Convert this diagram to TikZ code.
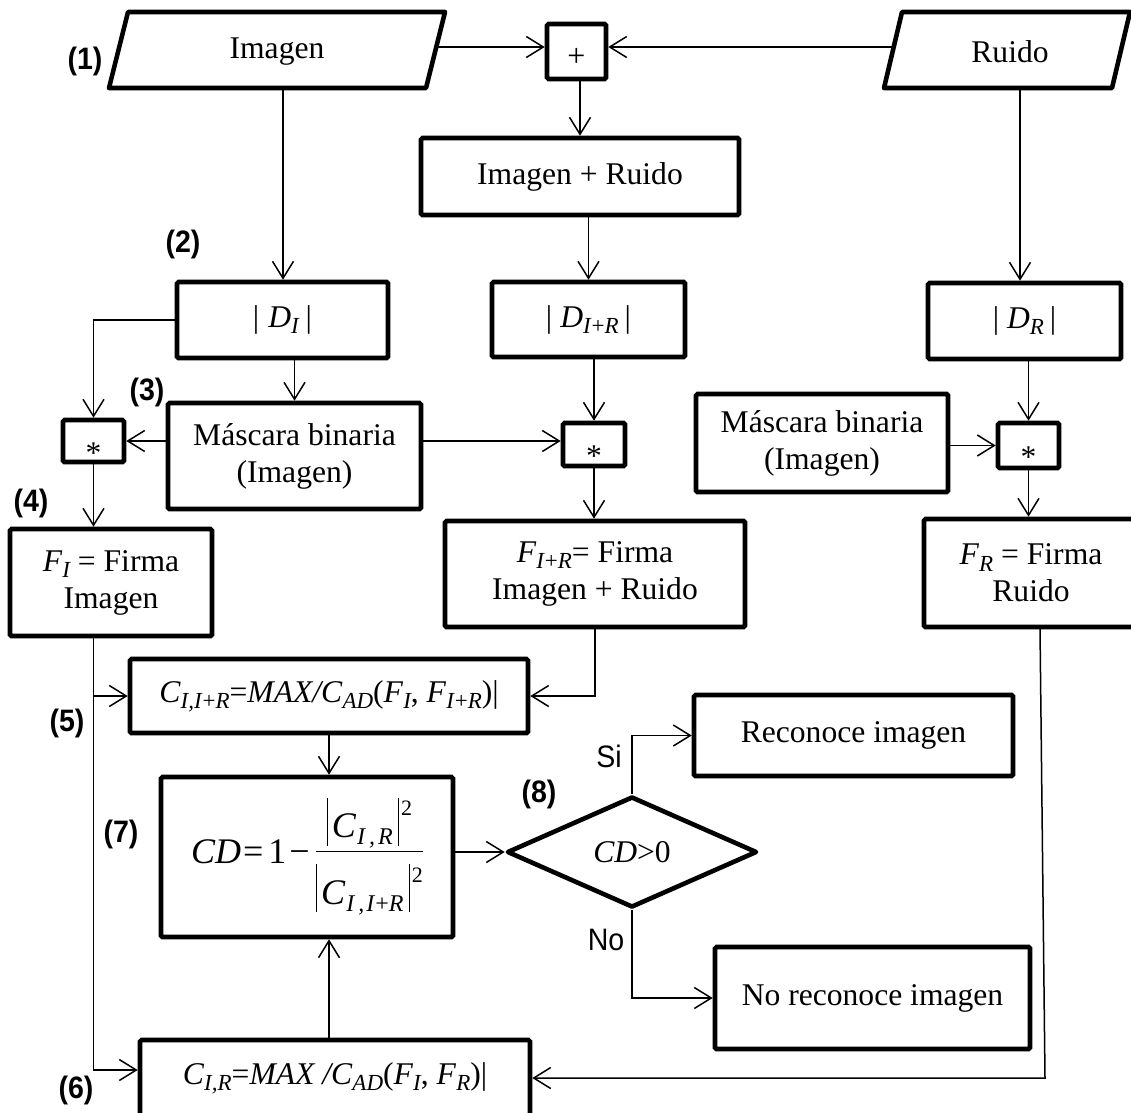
\documentclass[tikz,border=0pt]{standalone}
\usepackage{fontspec}
\setmainfont{Liberation Serif}
\newfontfamily\lblfont[FakeStretch=0.92]{Liberation Sans}
\usetikzlibrary{arrows.meta,shapes.geometric}
\setlength\arrayrulewidth{1.3pt}

% italic variable and its subscript
\newcommand\iv[1]{\textit{#1}}
\newcommand\sbx[1]{\raisebox{-0.2em}{\fontsize{23}{23}\selectfont\itshape #1}}
% pieces of the CD fraction
\newcommand\tbar{\rule[-8pt]{1.3pt}{48pt}}
\newcommand\fsq{\raisebox{22pt}{\fontsize{22}{22}\selectfont 2}}
\newcommand\fsb[1]{\raisebox{-7pt}{\fontsize{24}{24}\selectfont\itshape #1}}

\begin{document}
\begin{tikzpicture}[x=1pt,y=-1pt,
  every node/.style={font=\fontsize{31.6}{37}\selectfont, inner sep=0pt, align=center},
  blk/.style={draw, line width=4.6pt, rounded corners=1.5pt},
  opbox/.style={blk, text height=0pt, text depth=0pt},
  edge shape/.style={draw, line width=4.6pt, line join=round},
  lbl/.style={font=\lblfont\bfseries\fontsize{31}{31}\selectfont},
  lab/.style={font=\lblfont\fontsize{31}{31}\selectfont},
  ln/.style={draw, line width=1.5pt},
  arr/.style={ln, -{Straight Barb[length=17pt,width=21pt]}}]

\fill[white] (0,0) rectangle (1131,1112);
\useasboundingbox (0,0) rectangle (1131,1112);

% ---- inputs -------------------------------------------------------------
\draw[edge shape] (109,88) -- (128,12) -- (445,12) -- (426,88) -- cycle;
\node (img) at (277,52) {Imagen};
\coordinate (imgR) at (436,47);
\coordinate (imgB) at (283,88);

\draw[edge shape] (884,88) -- (902,12) -- (1130,12) -- (1112,88) -- cycle;
\node (rdo) at (1010,52) {Ruido};
\coordinate (rdoL) at (893,47);
\coordinate (rdoB) at (1020,88);

\node[opbox, minimum width=59pt, minimum height=55pt] (plus) at (576.5,51.5)
  {\fontsize{32}{32}\selectfont\raisebox{-15pt}{+}};

% ---- processing blocks --------------------------------------------------
\node[blk, minimum width=318pt, minimum height=77pt] (ir) at (580,176.5) {Imagen + Ruido};

\node[blk, minimum width=211pt, minimum height=76pt] (di) at (282.5,320)
  {|\kern9pt\iv{D}\sbx{I}\kern7pt|};
\node[blk, minimum width=193pt, minimum height=75pt] (dir) at (588.5,319.5)
  {|\kern8pt\iv{D}\sbx{I\textup{+}R}\kern6pt|};
\node[blk, minimum width=193pt, minimum height=76pt] (dr) at (1024.5,321)
  {|\kern8pt\iv{D}\sbx{R}\kern6pt|};

\node[blk, minimum width=253pt, minimum height=106pt] (m1) at (294.5,456)
  {Máscara binaria\\(Imagen)};
\node[blk, minimum width=252pt, minimum height=98pt] (m2) at (822,443)
  {Máscara binaria\\(Imagen)};

\node[opbox, minimum width=61pt, minimum height=42pt] (ls) at (93.5,441) {\raisebox{-22pt}{*}};
\node[opbox, minimum width=62pt, minimum height=43pt] (ms) at (594,444.5) {\raisebox{-22pt}{*}};
\node[opbox, minimum width=61pt, minimum height=45pt] (rs) at (1028.5,445.5) {\raisebox{-22pt}{*}};

\node[blk, minimum width=202pt, minimum height=107pt] (fi) at (111,582.5)
  {\iv{F}\sbx{I} = Firma\\Imagen};
\node[blk, minimum width=300pt, minimum height=106pt] (fir) at (595,574)
  {\iv{F}\sbx{I\textup{+}R}= Firma\\Imagen + Ruido};
\node[blk, minimum width=214pt, minimum height=108pt] (fr) at (1031,573)
  {\iv{F}\sbx{R} = Firma\\Ruido};

\node[blk, minimum width=398pt, minimum height=74pt] (cii) at (329,696)
  {\iv{C}\sbx{I,I\textup{+}R}=\iv{MAX/C}\sbx{AD}(\iv{F}\sbx{I}, \iv{F}\sbx{I\textup{+}R})|};

\node[blk, minimum width=292pt, minimum height=160pt] (cd) at (307,857)
  {\fontsize{36}{40}\selectfont\iv{CD}\kern2pt=\kern5pt1\kern3pt−\kern6pt%
   \begin{tabular}{@{}c@{}}
   \tbar\kern4pt\iv{C}\kern1pt\fsb{I\kern4pt,\kern3pt R}\kern5pt\tbar\kern2pt\fsq\rule[-13pt]{0pt}{13pt}\\\hline
   \rule{0pt}{52pt}\tbar\kern4pt\iv{C}\kern1pt\fsb{I\kern4pt,\kern2pt I\textup{+}R}\kern5pt\tbar\kern2pt\fsq
   \end{tabular}};

\node[blk, minimum width=390pt, minimum height=76pt] (cir) at (335,1078)
  {\iv{C}\sbx{I,R}=\iv{MAX /C}\sbx{AD}(\iv{F}\sbx{I}, \iv{F}\sbx{R})|};

\node[diamond, draw, line width=4.6pt, line join=round, aspect=2.25,
      minimum width=250pt, minimum height=111pt] (dia) at (632,852) {\iv{CD}>0};

\node[blk, minimum width=319pt, minimum height=81pt] (rec) at (853.5,735.5) {Reconoce imagen};
\node[blk, minimum width=315pt, minimum height=102pt] (nrec) at (872.5,998) {No reconoce imagen};

% ---- step labels --------------------------------------------------------
\node[lbl] (l1) at (85,61) {(1)};
\node[lbl] (l2) at (183,244) {(2)};
\node[lbl] (l3) at (147,392) {(3)};
\node[lbl] (l4) at (31,503) {(4)};
\node[lbl] (l5) at (67,723) {(5)};
\node[lbl] (l6) at (76,1090) {(6)};
\node[lbl] (l7) at (121,834) {(7)};
\node[lbl] (l8) at (539,794) {(8)};
\node[lab] (si) at (609,756) {Si};
\node[lab] (no) at (606,940) {No};

% ---- connectors ---------------------------------------------------------
\draw[arr] (imgR) -- (plus.west |- imgR);
\draw[arr] (rdoL) -- (plus.east |- rdoL);
\draw[arr] (plus.south -| ir.north) -- (ir.north);
\draw[arr] (imgB) -- (imgB |- di.north);
\draw[arr] (ir.south -| dir.north) -- (dir.north);
\draw[arr] (rdoB) -- (rdoB |- dr.north);

\draw[arr] (di.west) -| (ls.north);
\draw[arr] (di.south -| m1.north) -- (m1.north);
\draw[arr] (m1.west |- ls.east) -- (ls.east);
\draw[arr] (m1.east |- ls.east) -- (ms.west |- ls.east);
\draw[arr] (dir.south -| ms.north) -- (ms.north);
\draw[arr] (m2.east |- rs.west) -- (rs.west);
\draw[arr] (dr.south -| rs.north) -- (rs.north);

\draw[arr] (ls.south) -- (ls.south |- fi.north);
\draw[arr] (ms.south) -- (ms.south |- fir.north);
\draw[arr] (rs.south) -- (rs.south |- fr.north);

\coordinate (lowin) at (95,1070);
\draw[arr] (ls.south |- fi.south) -- (ls.south |- lowin) -- (cir.west |- lowin);
\draw[arr] (ls.south |- cii.west) -- (cii.west);
\draw[arr] (fir.south) |- (cii.east);
\draw[arr] (cii.south) -- (cii.south |- cd.north);
\draw[arr] (cii.south |- cir.north) -- (cii.south |- cd.south);

\draw[arr] (cd.east |- dia.west) -- (dia.west);
\draw[arr] (dia.north) |- (rec.west);
\draw[arr] (dia.south) |- (nrec.west);

\coordinate (frout) at (1040,629);
\coordinate (frbend) at (1045,1078);
\draw[arr] (frout) -- (frbend) -- (cir.east |- frbend);
\end{tikzpicture}
\end{document}
